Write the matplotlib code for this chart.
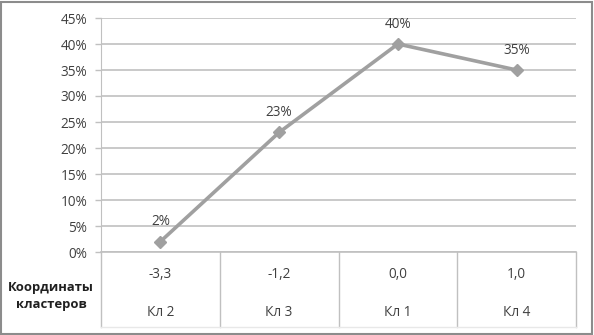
import matplotlib
matplotlib.use("Agg")
import matplotlib.pyplot as plt
from matplotlib.patches import Rectangle
from matplotlib.ticker import PercentFormatter

# chart data
clusters = ["Кл 2", "Кл 3", "Кл 1", "Кл 4"]
coords = ["-3,3", "-1,2", "0,0", "1,0"]
shares = [0.02, 0.23, 0.40, 0.35]
row_title = "Координаты\nкластеров"

W, H = 594, 335
plt.rcParams['font.family'] = ['Open Sans', 'DejaVu Sans']
txt_col = "#404040"
line_col = "#a0a0a0"
grid_col = "#c0c0c0"
fs = 9.8

fig = plt.figure(figsize=(W / 100, H / 100), dpi=100)
ax = fig.add_axes([101 / W, (H - 252) / H, (576 - 101) / W, (252 - 18) / H])

x = [i + 0.5 for i in range(len(shares))]
ax.plot(x, shares, color=line_col, lw=2.6, marker="D", markersize=6,
        markerfacecolor=line_col, markeredgecolor=line_col, zorder=3)
for xi, v in zip(x, shares):
    ax.annotate("%d%%" % round(v * 100), (xi, v), xytext=(0, 9),
                textcoords="offset points", ha="center", va="bottom",
                fontsize=fs, color=txt_col)

ax.set_xlim(0, len(shares))
ax.set_ylim(0, 0.45)
ax.set_yticks([i * 0.05 for i in range(10)])
ax.yaxis.set_major_formatter(PercentFormatter(1.0, decimals=0))
ax.grid(axis="y", color=grid_col, lw=1.2)
ax.set_axisbelow(True)
ax.set_xticks([])
ax.tick_params(axis="y", length=4, width=1, color=grid_col, pad=6,
               labelsize=fs, labelcolor=txt_col)
for s in ["top", "right"]:
    ax.spines[s].set_visible(False)
ax.spines["left"].set_color(grid_col)
ax.spines["bottom"].set_color(grid_col)
ax.spines["bottom"].set_linewidth(1.2)

# table under the axis
px = 0.05 / 26.0
y_bot = -(327 - 252) * px
for i in range(len(shares) + 1):
    ax.plot([i, i], [0, y_bot], color=grid_col, lw=1, clip_on=False)
ax.plot([0, len(shares)], [y_bot, y_bot], color="#e8e8e8", lw=1, clip_on=False)
for xi, c, k in zip(x, coords, clusters):
    ax.text(xi, -(275 - 252) * px, c, ha="center", va="center",
            fontsize=fs, color=txt_col, clip_on=False)
    ax.text(xi, -(313 - 252) * px, k, ha="center", va="center",
            fontsize=fs, color=txt_col, clip_on=False)

fig.text(51 / W, 1 - 296 / H, row_title, ha="center", va="center",
         fontsize=9.4, fontweight="bold", color="#202020", linespacing=1.35)

fig.patches.append(Rectangle((1 / W, 1 / H), (W - 3) / W, (H - 3) / H,
                             transform=fig.transFigure, fill=False,
                             edgecolor="#8c8c8c", lw=1.5))

fig.savefig("out.png", dpi=100)
